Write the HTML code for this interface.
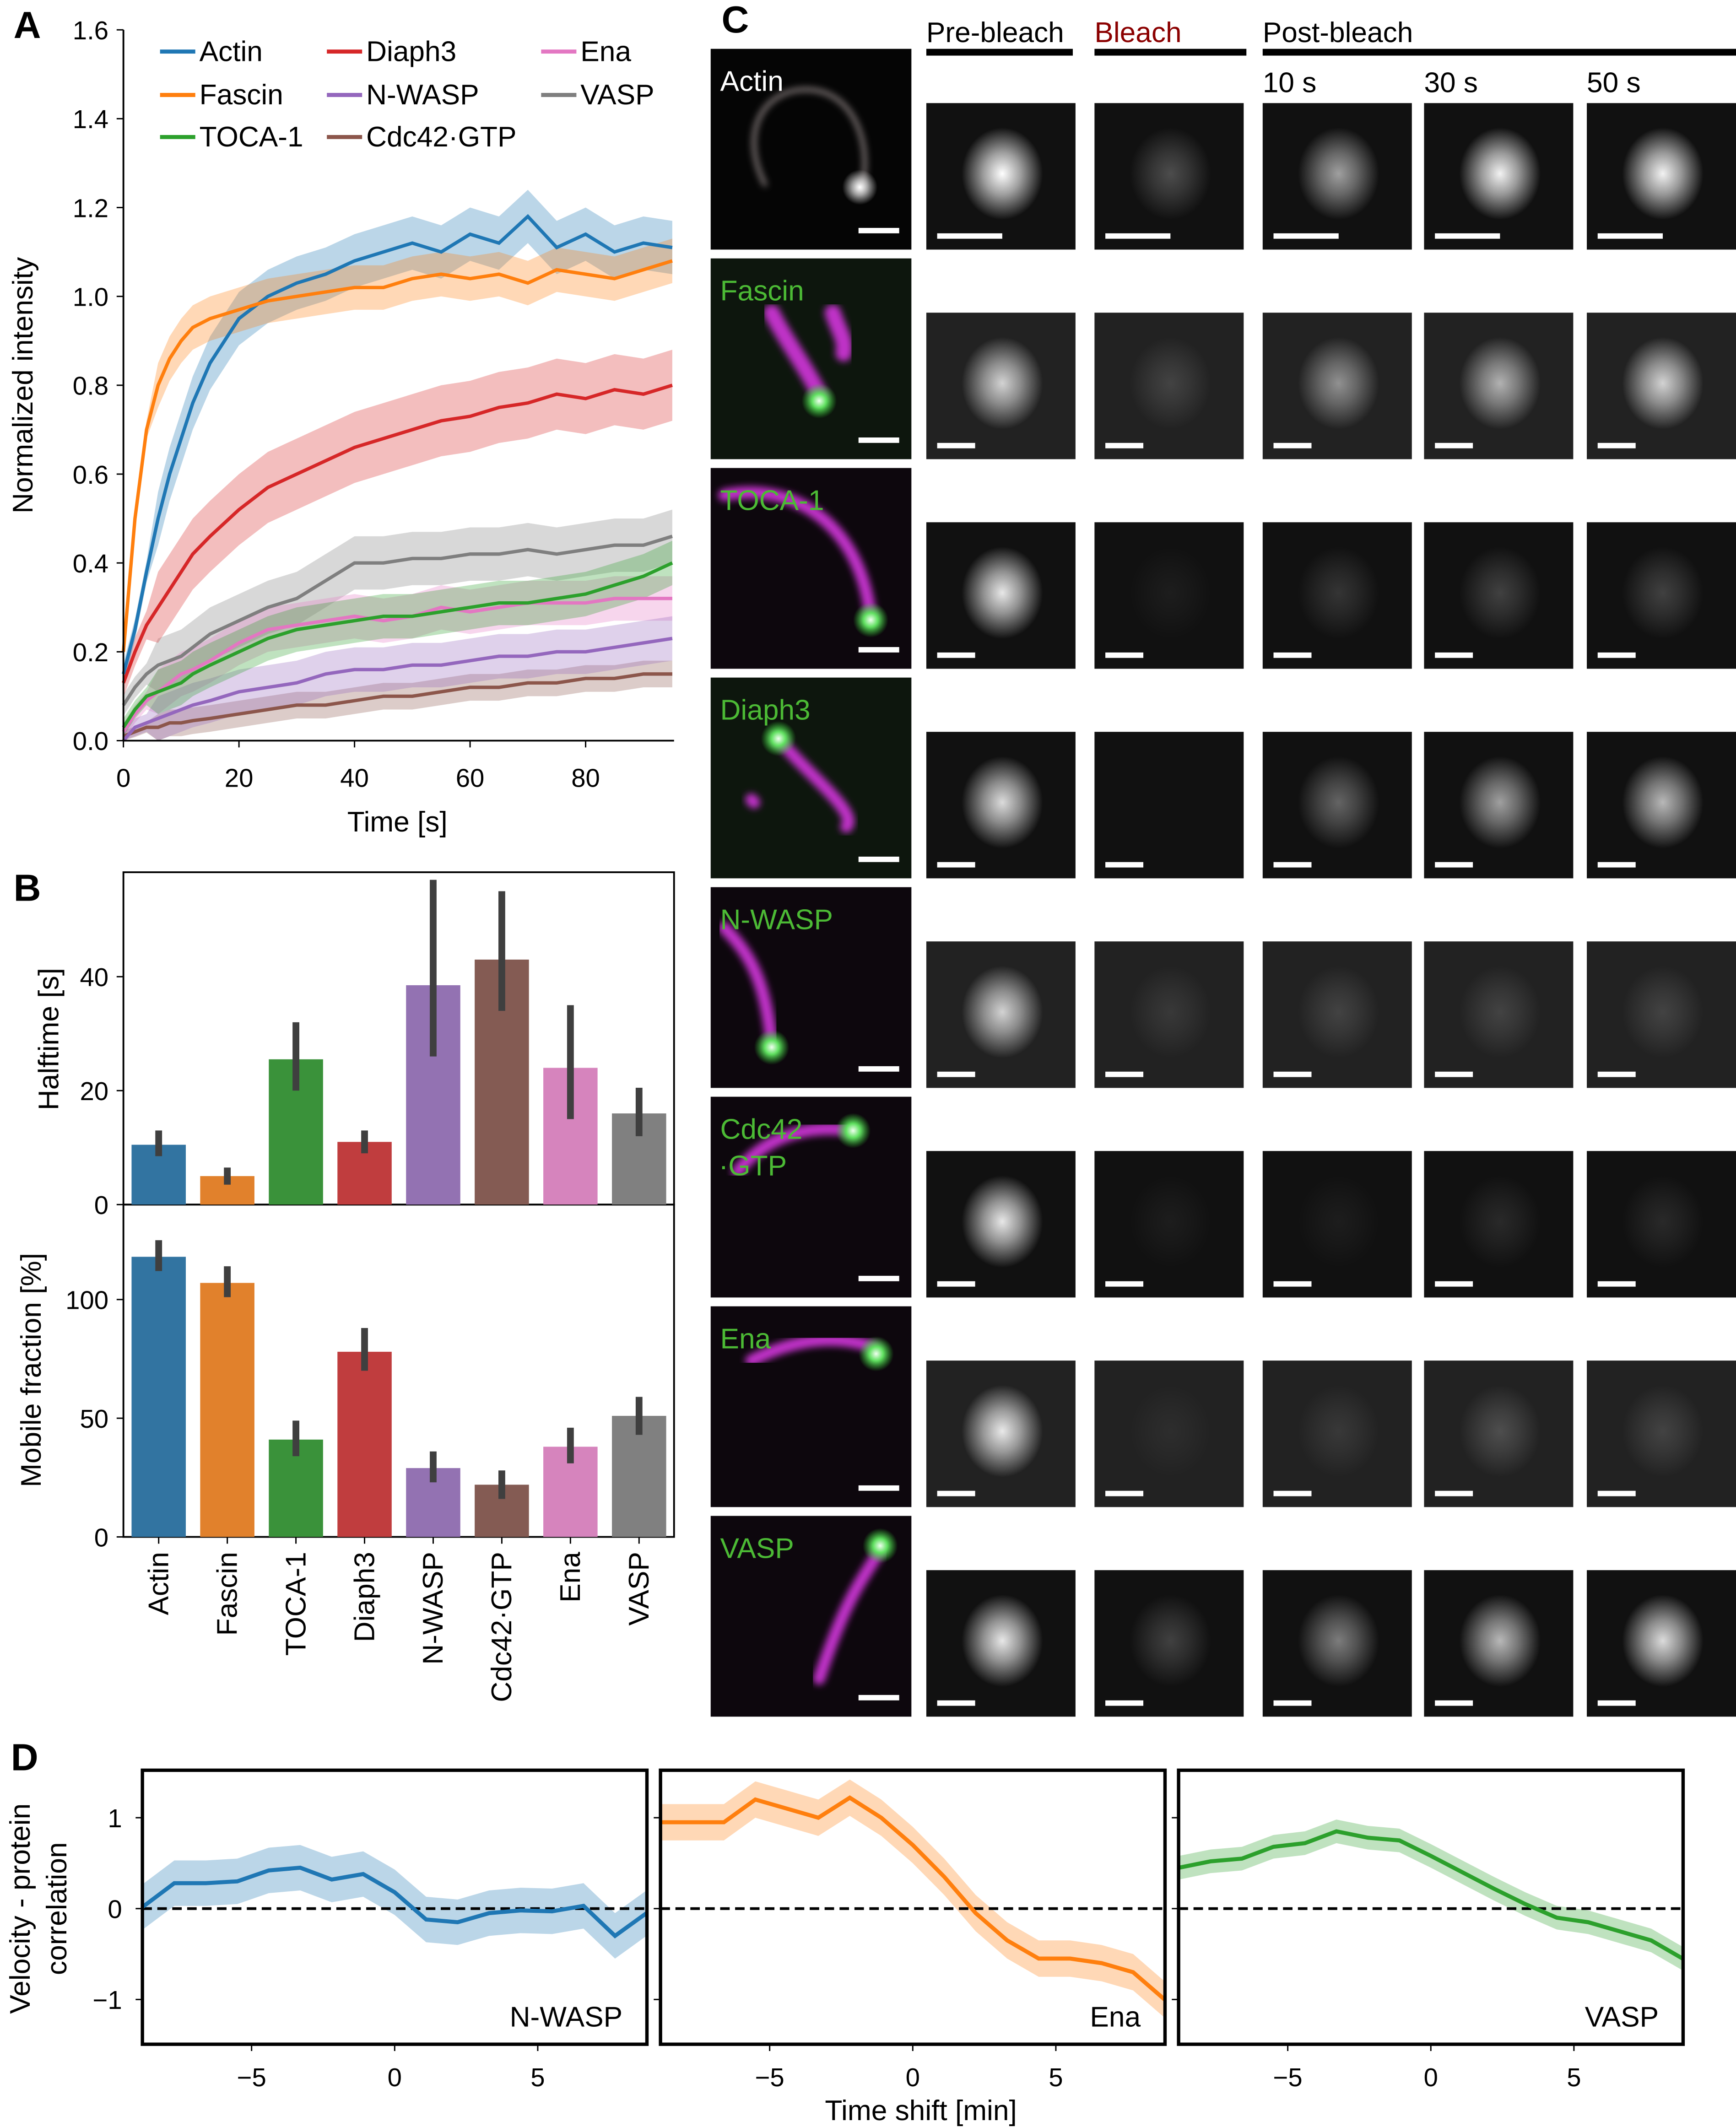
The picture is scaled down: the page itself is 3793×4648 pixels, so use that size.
<!DOCTYPE html>
<html><head><meta charset="utf-8"><style>
html,body{margin:0;padding:0;background:#fff}
svg{display:block;font-family:"Liberation Sans",sans-serif}
</style></head><body>
<svg id="fig" xmlns="http://www.w3.org/2000/svg" width="3793" height="4648" viewBox="0 0 1280 1568" preserveAspectRatio="none">
<defs>
<radialGradient id="spot"><stop offset="0" stop-color="#fff" stop-opacity="1"/><stop offset="0.45" stop-color="#fff" stop-opacity="0.6"/><stop offset="1" stop-color="#fff" stop-opacity="0"/></radialGradient>
<radialGradient id="gdot"><stop offset="0" stop-color="#f0fff0"/><stop offset="0.4" stop-color="#60e060"/><stop offset="1" stop-color="#30c030" stop-opacity="0"/></radialGradient>
<filter id="blur"><feGaussianBlur stdDeviation="2.5"/></filter>
</defs>
</svg>
<script>
// ---------- Panel A data ----------
const timeA = [0,2,4,6,8,10,12,15,20,25,30,35,40,45,50,55,60,65,70,75,80,85,90,95];
const seriesNames = ["Actin","Fascin","TOCA-1","Diaph3","N-WASP","Cdc42·GTP","Ena","VASP"];
const actinVals = [0.15,0.25,0.38,0.5,0.6,0.68,0.76,0.85,0.95,1.0,1.03,1.05,1.08,1.1,1.12,1.1,1.14,1.12,1.18,1.11,1.14,1.10,1.12,1.11];
const fascinVals = [0.2,0.5,0.7,0.8,0.86,0.9,0.93,0.95,0.97,0.99,1.0,1.01,1.02,1.02,1.04,1.05,1.04,1.05,1.03,1.06,1.05,1.04,1.06,1.08];
const tocaVals = [0.03,0.07,0.1,0.11,0.12,0.13,0.15,0.17,0.2,0.23,0.25,0.26,0.27,0.28,0.28,0.29,0.3,0.31,0.31,0.32,0.33,0.35,0.37,0.4];
const diaphVals = [0.13,0.2,0.26,0.3,0.34,0.38,0.42,0.46,0.52,0.57,0.6,0.63,0.66,0.68,0.7,0.72,0.73,0.75,0.76,0.78,0.77,0.79,0.78,0.8];
const nwaspVals = [0.0,0.03,0.04,0.05,0.06,0.07,0.08,0.09,0.11,0.12,0.13,0.15,0.16,0.16,0.17,0.17,0.18,0.19,0.19,0.2,0.2,0.21,0.22,0.23];
const cdcVals = [0.01,0.02,0.03,0.03,0.04,0.04,0.045,0.05,0.06,0.07,0.08,0.08,0.09,0.1,0.1,0.11,0.12,0.12,0.13,0.13,0.14,0.14,0.15,0.15];
const enaVals = [0.02,0.06,0.09,0.11,0.13,0.15,0.16,0.18,0.22,0.25,0.26,0.27,0.28,0.27,0.28,0.3,0.29,0.3,0.31,0.31,0.31,0.32,0.32,0.32];
const vaspVals = [0.08,0.12,0.15,0.17,0.18,0.19,0.21,0.24,0.27,0.3,0.32,0.36,0.4,0.4,0.41,0.41,0.42,0.42,0.43,0.42,0.43,0.44,0.44,0.46];
const bandA = [0.06,0.05,0.05,0.08,0.05,0.03,0.05,0.06];
const yTicksA = [0,0.2,0.4,0.6,0.8,1.0,1.2,1.4,1.6];
const xTicksA = [0,20,40,60,80];
// ---------- Panel B data ----------
const catB = ["Actin","Fascin","TOCA-1","Diaph3","N-WASP","Cdc42·GTP","Ena","VASP"];
const halftime = [10.5,5,25.5,11,38.5,43,24,16];
const halfLo = [8.5,3.5,20,9,26,34,15,12];
const halfHi = [13,6.5,32,13,57,55,35,20.5];
const mobile = [118,107,41,78,29,22,38,51];
const mobLo = [112,101,34,70,23,16,31,43];
const mobHi = [125,114,49,88,36,28,46,59];
const yTicksHalf = [0,20,40];
const yTicksMob = [0,50,100];
// ---------- Panel D data ----------
const shiftD = [-8.8,-7.7,-6.6,-5.5,-4.4,-3.3,-2.2,-1.1,0,1.1,2.2,3.3,4.4,5.5,6.6,7.7,8.8];
const corrNwasp = [0.02,0.28,0.28,0.3,0.42,0.45,0.32,0.38,0.18,-0.12,-0.15,-0.05,-0.02,-0.03,0.03,-0.3,-0.05];
const corrEna = [0.95,0.95,0.95,1.2,1.1,1.0,1.22,1.0,0.7,0.35,-0.05,-0.35,-0.55,-0.55,-0.6,-0.7,-1.0];
const corrVasp = [0.45,0.52,0.55,0.68,0.72,0.85,0.78,0.75,0.58,0.4,0.22,0.05,-0.1,-0.15,-0.25,-0.35,-0.55];
const bandD = [0.25,0.2,0.13];
const xTicksD = [-5,0,5];
const yTicksD = [-1,0,1];
// ---------- Panel C data ----------
const rowNames = ["Actin","Fascin","TOCA-1","Diaph3","N-WASP","Cdc42\n·GTP","Ena","VASP"];
const bright = [[1,0.25,0.6,0.95,0.95],[0.8,0.15,0.5,0.65,0.8],[0.9,0.05,0.15,0.2,0.2],[0.85,0,0.35,0.6,0.7],[0.8,0.1,0.15,0.15,0.15],[0.9,0.05,0.05,0.1,0.1],[0.9,0.05,0.1,0.2,0.15],[0.9,0.2,0.45,0.7,0.85]];

const svg = document.getElementById('fig');
const NS = "http://www.w3.org/2000/svg";
function mk(tag, attrs, parent){const e=document.createElementNS(NS,tag);for(const k in attrs)e.setAttribute(k,attrs[k]);(parent||svg).appendChild(e);return e;}
function txt(s,x,y,size,anchor,extra){const e=mk('text',Object.assign({x:x,y:y,'font-size':size,'text-anchor':anchor||'start',fill:'#000'},extra||{}));e.textContent=s;return e;}
const lineCols = ["#1f77b4","#ff7f0e","#2ca02c","#d62728","#9467bd","#8c564b","#e377c2","#7f7f7f"];
const barCols = ["#3274a1","#e1812c","#3a923a","#c03d3e","#9372b2","#845b53","#d684bd","#808080"];

// Panel letters
[["A",10,28],["B",10,664],["C",532,24],["D",8,1305]].forEach(p=>{const t=txt(p[0],p[1],p[2],28,'start',{'font-weight':'bold'});

});

// ---------- Panel A ----------
const ax = t=>91+t*4.26, ay = v=>546-v*327.5;
const allA=[actinVals,fascinVals,tocaVals,diaphVals,nwaspVals,cdcVals,enaVals,vaspVals];
const drawOrder=[7,6,5,4,2,3,0,1];
drawOrder.forEach(i=>{const v=allA[i],b=bandA[i];
 let up=timeA.map((t,j)=>ax(t)+','+ay(v[j]+b*(j<3?0.4:1))), dn=timeA.map((t,j)=>ax(t)+','+ay(Math.max(0,v[j]-b*(j<3?0.4:1)))).reverse();
 const poly=mk('polygon',{points:up.concat(dn).join(' '),fill:lineCols[i],'fill-opacity':0.3,stroke:'none'});
 
 });
drawOrder.forEach(i=>{const v=allA[i];
 const pl=mk('polyline',{points:timeA.map((t,j)=>ax(t)+','+ay(v[j])).join(' '),fill:'none',stroke:lineCols[i],'stroke-width':2.5});
 
 });
const axA=mk('path',{d:'M91,22 V546 H497',fill:'none',stroke:'#000','stroke-width':1.3});


yTicksA.forEach(v=>{mk('line',{x1:86,x2:91,y1:ay(v),y2:ay(v),stroke:'#000'});const t=txt(v.toFixed(1),80,ay(v)+7,19,'end');

});
xTicksA.forEach(v=>{mk('line',{x1:ax(v),x2:ax(v),y1:546,y2:551,stroke:'#000'});const t=txt(String(v),ax(v),580,19,'middle');

});
let t1=txt('Time [s]',293,613,21,'middle');


let t2=txt('Normalized intensity',0,0,21,'middle',{transform:'translate(24,284) rotate(-90)'});


const legPos=[[118,38],[118,70],[118,101],[241,38],[241,70],[241,101],[399,38],[399,70]];
const legIdx=[0,1,2,3,4,5,6,7];
legIdx.forEach(i=>{const p=legPos[i];const g=mk('g',{});
 
 
 mk('line',{x1:p[0],x2:p[0]+26,y1:p[1],y2:p[1],stroke:lineCols[i],'stroke-width':3},g);
 const t=txt(seriesNames[i],p[0]+29,p[1]+7,21,'start');g.appendChild(t);});

// ---------- Panel B ----------
const bx = i=>117+i*50.6;
const hy = v=>888-v*4.2, my = v=>1133-v*1.75;
const boxB1=mk('rect',{x:91,y:643,width:406,height:245,fill:'none',stroke:'#000','stroke-width':1.3});


const boxB2=mk('rect',{x:91,y:888,width:406,height:245,fill:'none',stroke:'#000','stroke-width':1.3});


catB.forEach((c,i)=>{
 const r1=mk('rect',{x:bx(i)-20,y:hy(halftime[i]),width:40,height:888-hy(halftime[i]),fill:barCols[i]});
 
 
 const e1=mk('line',{x1:bx(i),x2:bx(i),y1:hy(halfLo[i]),y2:hy(halfHi[i]),stroke:'#3f3f3f','stroke-width':5});
 
 
 const r2=mk('rect',{x:bx(i)-20,y:my(mobile[i]),width:40,height:1133-my(mobile[i]),fill:barCols[i]});
 
 
 const e2=mk('line',{x1:bx(i),x2:bx(i),y1:my(mobLo[i]),y2:my(mobHi[i]),stroke:'#3f3f3f','stroke-width':5});
 
 
 mk('line',{x1:bx(i),x2:bx(i),y1:1133,y2:1138,stroke:'#000'});
 const t=txt(c,0,0,21,'end',{transform:'translate('+(bx(i)+7)+',1144) rotate(-90)'});
 
 
});
yTicksHalf.forEach(v=>{mk('line',{x1:86,x2:91,y1:hy(v),y2:hy(v),stroke:'#000'});const t=txt(String(v),80,hy(v)+7,19,'end');

});
yTicksMob.forEach(v=>{mk('line',{x1:86,x2:91,y1:my(v),y2:my(v),stroke:'#000'});const t=txt(String(v),80,my(v)+7,19,'end');

});
let t3=txt('Halftime [s]',0,0,21,'middle',{transform:'translate(43,766) rotate(-90)'});


let t4=txt('Mobile fraction [%]',0,0,21,'middle',{transform:'translate(30,1010) rotate(-90)'});



// ---------- Panel C ----------
[["Pre-bleach",683,791,'#000'],["Bleach",807,919,'#8b0000'],["Post-bleach",931,1280,'#000']].forEach(h=>{
 const t=txt(h[0],h[1],31,21,'start',{fill:h[3]});
 
 
 mk('rect',{x:h[1],y:36,width:h[2]-h[1],height:5,fill:'#000'});});
[["10 s",931],["30 s",1050],["50 s",1170]].forEach(h=>{const t=txt(h[0],h[1],68,21,'start');
 
 });
const colX=[683,807,931,1050,1170];
const curves=[
 "M40,100 C20,60 40,30 70,30 C110,30 120,80 110,105",
 "M45,40 C55,60 70,80 80,100 M90,40 C95,55 100,60 98,70",
 "M10,20 C60,10 110,40 118,110",
 "M50,45 C70,70 110,100 100,110 M30,90 L32,92",
 "M10,30 C30,50 40,70 45,115",
 "M105,25 C70,20 40,30 20,55",
 "M120,30 C90,20 60,25 30,40",
 "M125,25 C110,50 100,60 80,120"];
const dots=[[110,102],[80,105],[118,112],[50,45],[45,118],[105,25],[122,35],[125,22]];
rowNames.forEach((name,r)=>{
 const top=36+r*154.5, bottom=top+148;
 const g=mk('g',{});
 
 
 mk('rect',{x:524,y:top,width:148,height:148,fill:r==0?'#050505':(r==1||r==3?'#0d160d':'#0d070d')},g);
 const gi=mk('g',{transform:'translate(524,'+top+')'},g);
 mk('path',{d:curves[r],fill:'none',stroke:r==0?'#8a8080':'#c030c8','stroke-width':r==0?3:(r==1?12:9),'stroke-linecap':'round',filter:'url(#blur)'},gi);
 mk('circle',{cx:dots[r][0],cy:dots[r][1],r:13,fill:r==0?'url(#spot)':'url(#gdot)'},gi);
 mk('rect',{x:633,y:bottom-16,width:30,height:4,fill:'#fff'},g);
 const lines=name.split('\n');
 lines.forEach((l,k)=>{const t=txt(l,r==5&&k==1?530:531,top+31+k*27,21,'start',{fill:r==0?'#fff':'#4cba35'});
  
  
  g.appendChild(t);});
 const st=bottom-108;
 colX.forEach((x,c)=>{
  mk('rect',{x:x,y:st,width:110,height:108,fill:(r==1||r==4||r==6)?'#222':'#111'},g);
  const b=bright[r][c];
  if(b>0) mk('ellipse',{cx:x+56,cy:st+52,rx:30,ry:34,fill:'url(#spot)','fill-opacity':b},g);
  mk('rect',{x:x+8,y:st+96,width:r==0?48:28,height:4,fill:'#fff'},g);
 });
});

// ---------- Panel D ----------
const dBoxes=[[105,"N-WASP",corrNwasp,0],[487,"Ena",corrEna,1],[869,"VASP",corrVasp,2]];
const dy=v=>1407-v*67;
dBoxes.forEach(d=>{
 const x0=d[0], dx=s=>x0+186+s*21.1, vals=d[2], col=lineCols[d[3]], bw=bandD[d[3]];
 const g=mk('g',{});
 
 
 const up=shiftD.map((s,j)=>dx(s)+','+dy(vals[j]+bw)), dn=shiftD.map((s,j)=>dx(s)+','+dy(vals[j]-bw)).reverse();
 mk('polygon',{points:up.concat(dn).join(' '),fill:col,'fill-opacity':0.3},g);
 mk('line',{x1:x0,x2:x0+372,y1:dy(0),y2:dy(0),stroke:'#000','stroke-width':2,'stroke-dasharray':'7,4'},g);
 mk('polyline',{points:shiftD.map((s,j)=>dx(s)+','+dy(vals[j])).join(' '),fill:'none',stroke:col,'stroke-width':3},g);
 mk('rect',{x:x0,y:1305,width:372,height:202,fill:'none',stroke:'#000','stroke-width':2.5},g);
 yTicksD.forEach(v=>mk('line',{x1:x0-5,x2:x0,y1:dy(v),y2:dy(v),stroke:'#000'},g));
 xTicksD.forEach(v=>{mk('line',{x1:dx(v),x2:dx(v),y1:1507,y2:1512,stroke:'#000'},g);
  const t=txt(v<0?'\u2212'+(-v):String(v),dx(v),1538,19,'middle');g.appendChild(t);
  
  });
 const lt=txt(d[1],x0+354,1494,21,'end');g.appendChild(lt);
 
 
});
yTicksD.forEach(v=>{const t=txt(v<0?'\u2212'+(-v):String(v),90,dy(v)+7,19,'end');
 
 });
let t5=txt('Time shift [min]',679,1563,21,'middle');


let t6=txt('Velocity - protein',0,0,21,'middle',{transform:'translate(22,1407) rotate(-90)'});


let t7=txt('correlation',0,0,21,'middle',{transform:'translate(49,1407) rotate(-90)'});


</script>
</body></html>
